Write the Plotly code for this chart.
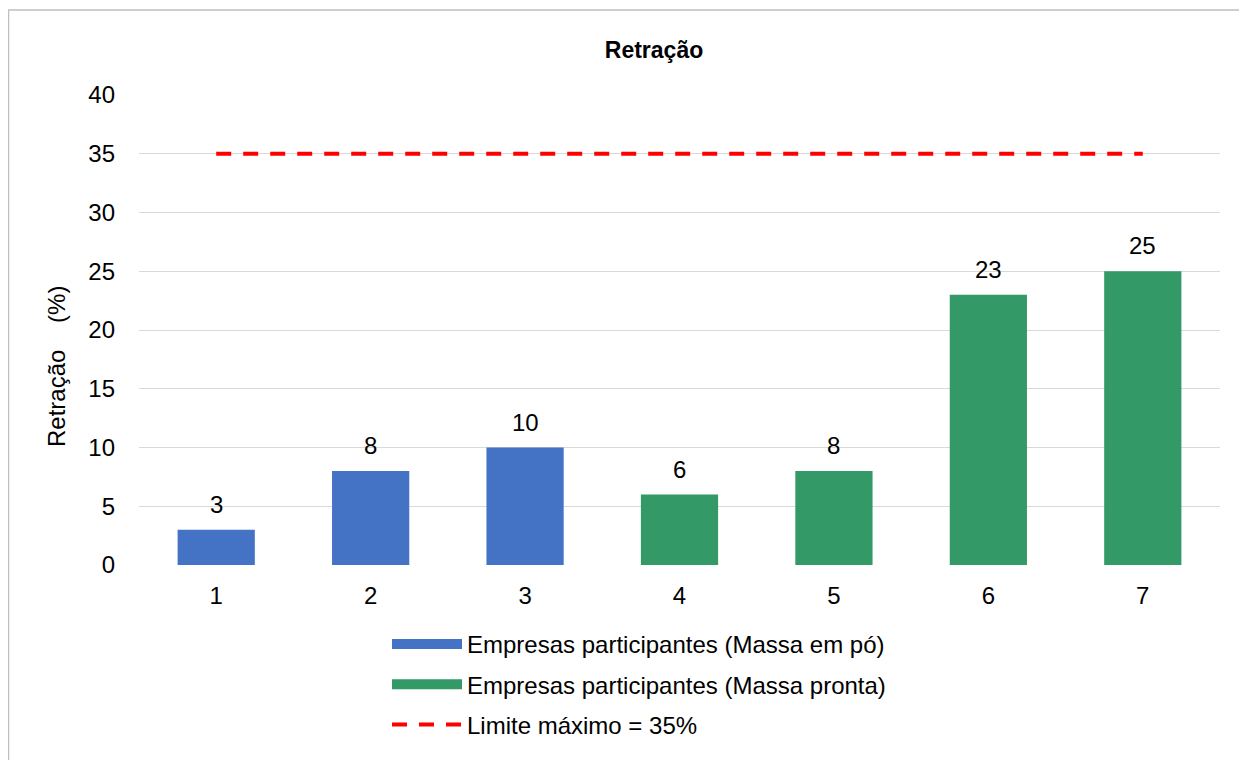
import plotly.graph_objects as go

categories = ["1", "2", "3", "4", "5", "6", "7"]
po_categories = ["1", "2", "3"]
po_values = [3, 8, 10]
pronta_categories = ["4", "5", "6", "7"]
pronta_values = [6, 8, 23, 25]
limite = 35
limite_values = [limite] * len(categories)
y_ticks = [0, 5, 10, 15, 20, 25, 30, 35, 40]

BLUE = "#4472C4"
GREEN = "#339966"
RED = "#FF0000"
FONT = "Liberation Sans, Arial, sans-serif"
FS = 24

# page has an 8px body margin: figure coords = screen - 8
W, H = 1239, 752
ML, MR, MT, MB = 131, 27, 87, 195
PW = W - ML - MR
PH = H - MT - MB

fig = go.Figure()

fig.add_trace(go.Bar(
    x=po_categories, y=po_values, name="Empresas participantes (Massa em pó)",
    marker=dict(color=BLUE, line=dict(width=0)), width=0.5, offsetgroup="a",
    showlegend=False, hoverinfo="x+y",
))
fig.add_trace(go.Bar(
    x=pronta_categories, y=pronta_values, name="Empresas participantes (Massa pronta)",
    marker=dict(color=GREEN, line=dict(width=0)), width=0.5, offsetgroup="a",
    showlegend=False, hoverinfo="x+y",
))
fig.add_trace(go.Scatter(
    x=categories, y=limite_values, mode="lines", name="Limite máximo = 35%",
    line=dict(color=RED, width=4, dash="15px,12px"), showlegend=False,
))

# legend entries
fig.add_trace(go.Scatter(
    x=[None], y=[None], mode="lines", name="Empresas participantes (Massa em pó)",
    line=dict(color=BLUE, width=13), legendgroup="g1",
))
fig.add_trace(go.Scatter(
    x=[None], y=[None], mode="lines", name="Empresas participantes (Massa pronta)",
    line=dict(color=GREEN, width=13), legendgroup="g2",
))
fig.add_trace(go.Scatter(
    x=[None], y=[None], mode="lines", name="Limite máximo = 35%",
    line=dict(color=RED, width=4, dash="15px,12px"), legendgroup="g3",
))

# value labels above bars
annotations = []
for cats, vals in ((po_categories, po_values), (pronta_categories, pronta_values)):
    for c, v in zip(cats, vals):
        annotations.append(dict(
            x=categories.index(c), y=v, xref="x", yref="y", text=str(v), showarrow=False,
            yanchor="bottom", xanchor="center", yshift=10,
            font=dict(size=FS, family=FONT, color="#000000"),
        ))

# y axis title
annotations.append(dict(
    text="Retração    (%)", textangle=-90, showarrow=False,
    xref="paper", yref="paper", x=(48 - ML) / PW, y=(MT + PH - 359) / PH,
    xanchor="center", yanchor="middle",
    font=dict(size=FS, family=FONT, color="#000000"),
))

fig.update_layout(
    width=W, height=H,
    margin=dict(l=ML, r=MR, t=MT, b=MB, autoexpand=False),
    paper_bgcolor="white", plot_bgcolor="white",
    font=dict(family=FONT, size=FS, color="#000000"),
    title=dict(text="<b>Retração</b>", x=646 / W, xref="container",
               xanchor="center", y=1 - 42 / H, yanchor="middle",
               font=dict(size=23, family=FONT, color="#000000")),
    barmode="overlay",
    xaxis=dict(type="category", categoryorder="array", categoryarray=categories,
               showgrid=False, showline=False, ticks="", zeroline=False,
               tickfont=dict(size=FS, family=FONT), range=[-0.5, 6.5],
               ticklabelstandoff=14),
    yaxis=dict(range=[0, 40], tickvals=y_ticks, showgrid=True, gridcolor="#D9D9D9",
               gridwidth=1.3, zeroline=False, showline=False, ticks="",
               tickfont=dict(size=FS, family=FONT), ticklabelstandoff=23),
    legend=dict(orientation="v", x=(387 - 8 - ML) / PW, xanchor="left",
                y=(MT + PH - 614) / PH, yanchor="top",
                font=dict(size=FS, family=FONT), tracegroupgap=6,
                itemwidth=70, bgcolor="rgba(0,0,0,0)"),
    annotations=annotations,
    shapes=[dict(type="rect", xref="paper", yref="paper",
                 x0=(0.5 - ML) / PW, x1=(W + 20 - ML) / PW,
                 y0=(MT + PH - (H + 20)) / PH, y1=(MT + PH - 2) / PH,
                 line=dict(color="#BFBFBF", width=1.5), layer="below")],
)

fig.write_html("out.html")
